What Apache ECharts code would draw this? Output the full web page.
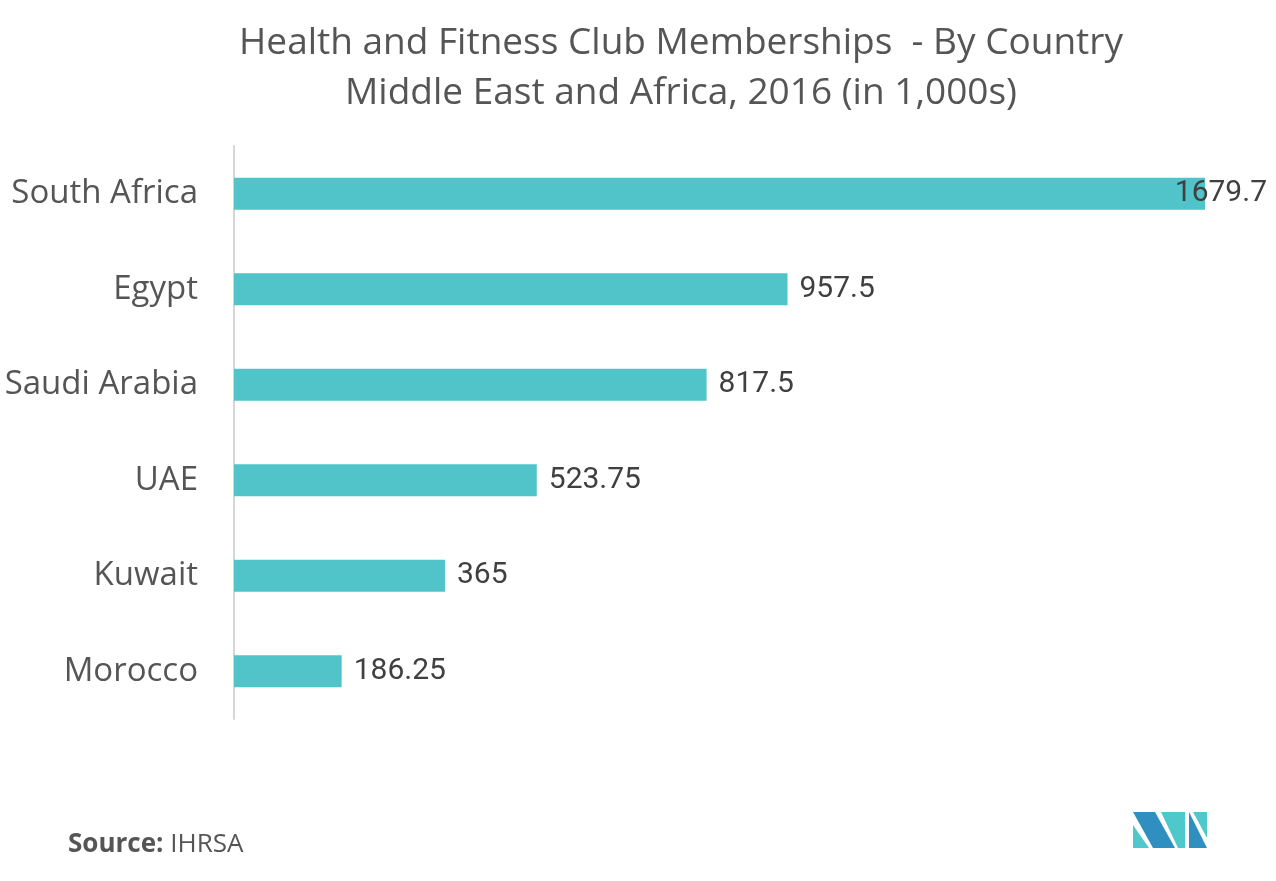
<!DOCTYPE html>
<html><head><meta charset="utf-8">
<script src="https://cdn.jsdelivr.net/npm/echarts@6/dist/echarts.min.js"></script>
<style>html,body{margin:0;padding:0;background:#fff}#c{width:1276px;height:881px}</style>
</head><body><div id="c"></div>
<script>
const categories = ['South Africa','Egypt','Saudi Arabia','UAE','Kuwait','Morocco'];
const values = [1679.7, 957.5, 817.5, 523.75, 365, 186.25];
const labels = ['1679.7','957.5','817.5','523.75','365','186.25'];

const chart = echarts.init(document.getElementById('c'));
const font = '"Open Sans", Lato, sans-serif';
const numFont = 'Roboto, sans-serif';
chart.setOption({
  animation: false,
  title: {
    text: 'Health and Fitness Club Memberships  - By Country\nMiddle East and Africa, 2016 (in 1,000s)',
    left: 676, top: 13, textAlign: 'center',
    textStyle: {fontFamily: font, fontSize: 37, fontWeight: 'normal', color: '#555', lineHeight: 50}
  },
  grid: {left: 234, top: 146, width: 971, height: 573, containLabel: false},
  xAxis: {type: 'value', min: 0, max: 1679.7, show: false},
  yAxis: {
    type: 'category', data: categories.slice().reverse(),
    axisLine: {show: true, lineStyle: {color: '#d6d6d6', width: 2}},
    axisTick: {show: false},
    axisLabel: {fontFamily: font, fontSize: 33, color: '#555', margin: 36}
  },
  series: [{
    type: 'bar', barWidth: 32,
    itemStyle: {color: '#50C4C9'},
    data: values.map((v, i) => {
      const d = {value: v, name: categories[i], lbl: labels[i]};
      if (i === 0) d.label = {position: 'insideRight', offset: [74, 0]};
      return d;
    }).reverse(),
    label: {show: true, position: 'right', distance: 12, fontFamily: numFont, fontSize: 30, color: '#404040',
      formatter: p => p.data.lbl}
  }],
  graphic: [
    {type: 'text', left: 68, top: 832, style: {text: '{b|Source:} IHRSA', fontFamily: font, fontSize: 26, fill: '#555',
      rich: {b: {fontWeight: 'bold', fontFamily: font, fontSize: 26, fill: '#555'}}}},
    {type: 'polygon', shape: {points: [[1133,812],[1155,812],[1175,848],[1153,848]]}, style: {fill: '#2E8FC0'}},
    {type: 'polygon', shape: {points: [[1133,825],[1149,848],[1133,848]]}, style: {fill: '#4FC8CC'}},
    {type: 'polygon', shape: {points: [[1161,812],[1185,812],[1185,848],[1178,848]]}, style: {fill: '#4FC8CC'}},
    {type: 'polygon', shape: {points: [[1189,812],[1207,848],[1189,848]]}, style: {fill: '#2E8FC0'}},
    {type: 'polygon', shape: {points: [[1193,812],[1207,812],[1207,838]]}, style: {fill: '#4FC8CC'}}
  ]
});
</script></body></html>
